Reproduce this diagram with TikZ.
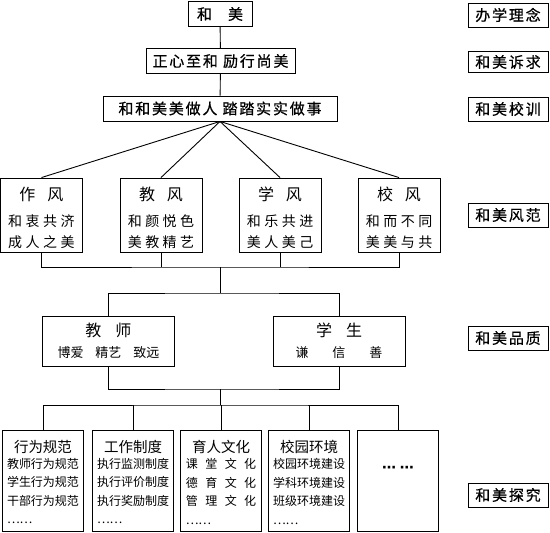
\documentclass[tikz,border=0pt]{standalone}
\usepackage{fontspec}
\setmainfont{Noto Sans CJK SC}
\newfontfamily\spaced[LetterSpace=12,FakeBold=0.6]{Noto Sans CJK SC}
\newfontfamily\wide[LetterSpace=25]{Noto Sans CJK SC}
\newfontfamily\dotted{DejaVu Sans}
\usetikzlibrary{positioning}
\newcommand\gap{\hspace{7.5pt}}

\begin{document}
\begin{tikzpicture}[x=1pt,y=-1pt,line width=0.9pt,
  box/.style={draw,fill=white,inner sep=0pt,align=center},
  txt/.style={inner sep=0pt},
  tag/.style={box,minimum width=80pt,minimum height=24pt,font=\spaced\fontsize{15}{15}\selectfont},
  head/.style={box,minimum height=25pt,font=\spaced\fontsize{15}{15}\selectfont},
  feng/.style={box,minimum width=82pt,minimum height=74pt,font=\wide\fontsize{14}{21}\selectfont},
  pin/.style={box,minimum width=132pt,minimum height=50pt,font=\fontsize{13}{21}\selectfont},
  tan/.style={box,minimum width=81pt,minimum height=101pt},
  tanhead/.style={txt,font=\fontsize{14.5}{14.5}\selectfont},
  tanbody/.style={txt,align=left,font=\fontsize{12}{18.5}\selectfont}]
  \useasboundingbox (0,0) rectangle (550,533);

  \node[head,minimum width=64pt] (hemei) at (220,14) {和\hspace{16pt}美};
  \node[head,minimum width=149pt] (suqiu) at (220.5,61) {正心至和 励行尚美};
  \node[head,minimum width=234pt] (xiaoxun) at (220,108.5) {和和美美做人 踏踏实实做事};

  \node[feng] (zuofeng) at (41.5,215) {{\fontsize{16}{16}\selectfont\rule{0pt}{20pt}作\hspace{12pt}风}\\[5pt]和衷共济\\成人之美};
  \node[feng] (jiaofeng) at (161,215) {{\fontsize{16}{16}\selectfont\rule{0pt}{20pt}教\hspace{12pt}风}\\[5pt]和颜悦色\\美教精艺};
  \node[feng] (xuefeng) at (280,215) {{\fontsize{16}{16}\selectfont\rule{0pt}{20pt}学\hspace{12pt}风}\\[5pt]和乐共进\\美人美己};
  \node[feng] (xiaofeng) at (399,215) {{\fontsize{16}{16}\selectfont\rule{0pt}{20pt}校\hspace{12pt}风}\\[5pt]和而不同\\美美与共};

  \node[pin] (jiaoshi) at (108.5,341) {{\fontsize{16}{16}\selectfont 教\hspace{14pt}师}\\博爱\hspace{12pt}精艺\hspace{12pt}致远};
  \node[pin] (xuesheng) at (339,341) {{\fontsize{16}{16}\selectfont 学\hspace{14pt}生}\\谦\hspace{24pt}信\hspace{24pt}善};

  \node[tan] (guifan) at (43,480.5) {};
  \node[tanhead,below=10pt of guifan.north] (guifan-t) {行为规范};
  \node[tanbody,below=4pt of guifan-t] {教师行为规范\\学生行为规范\\干部行为规范\\……};
  \node[tan] (zhidu) at (133,480.5) {};
  \node[tanhead,below=10pt of zhidu.north] (zhidu-t) {工作制度};
  \node[tanbody,below=4pt of zhidu-t] {执行监测制度\\执行评价制度\\执行奖励制度\\……};
  \node[tan] (wenhua) at (221,480.5) {};
  \node[tanhead,below=10pt of wenhua.north] (wenhua-t) {育人文化};
  \node[tanbody,below=4pt of wenhua-t] {课\gap 堂\gap 文\gap 化\\德\gap 育\gap 文\gap 化\\管\gap 理\gap 文\gap 化\\……\hspace{48pt}};
  \node[tan] (huanjing) at (309,480.5) {};
  \node[tanhead,below=10pt of huanjing.north] (huanjing-t) {校园环境};
  \node[tanbody,below=4pt of huanjing-t] {校园环境建设\\学科环境建设\\班级环境建设\\……};
  \node[tan] (qita) at (398,480.5) {};
  \node[txt,font=\dotted\bfseries\fontsize{14}{14}\selectfont,below=36pt of qita.north] {⋯\hspace{4pt}⋯};

  \node[tag] (l-linian) at (508,15) {办学理念};
  \node[tag,minimum height=21pt] (l-suqiu) at (508,62) {和美诉求};
  \node[tag] (l-xiaoxun) at (508,109) {和美校训};
  \node[tag] (l-fengfan) at (508,215) {和美风范};
  \node[tag] (l-pinzhi) at (508,338) {和美品质};
  \node[tag] (l-tanjiu) at (508,495) {和美探究};

  \coordinate (fengbar) at (220,267);
  \coordinate (pintop) at (220,293);
  \coordinate (pinbot) at (220,389);
  \coordinate (tanbar) at (220,405);

  \draw (hemei) -- (suqiu);
  \draw (suqiu) -- (xiaoxun);
  \draw (xiaoxun.south) -- (zuofeng.north);
  \draw (xiaoxun.south) -- (jiaofeng.north);
  \draw (xiaoxun.south) -- (xuefeng.north);
  \draw (xiaoxun.south) -- (xiaofeng.north);
  \draw (zuofeng.south) |- (fengbar) -| (xiaofeng.south);
  \draw (jiaofeng.south) -- (jiaofeng.south |- fengbar);
  \draw (xuefeng.south) -- (xuefeng.south |- fengbar);
  \draw (fengbar) -- (pintop);
  \draw (jiaoshi.north) |- (pintop) -| (xuesheng.north);
  \draw (jiaoshi.south) |- (pinbot) -| (xuesheng.south);
  \draw (pinbot) -- (tanbar);
  \draw (guifan.north) |- (tanbar) -| (qita.north);
  \draw (zhidu.north) -- (zhidu.north |- tanbar);
  \draw (wenhua.north) -- (wenhua.north |- tanbar);
  \draw (huanjing.north) -- (huanjing.north |- tanbar);
\end{tikzpicture}
\end{document}
